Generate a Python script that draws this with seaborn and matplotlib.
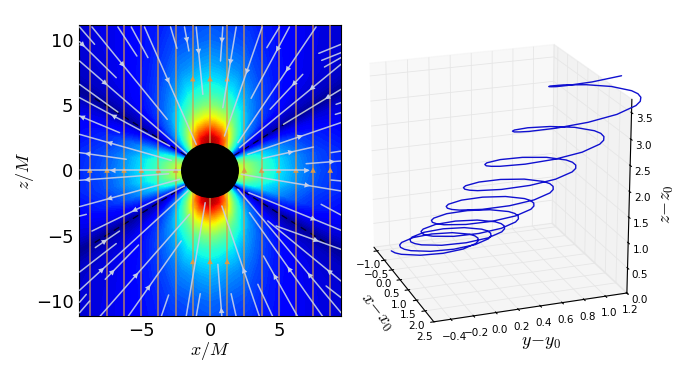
import numpy as np
import matplotlib
matplotlib.use("Agg")
import matplotlib.pyplot as plt
from matplotlib.patches import Circle
import seaborn as sns

sns.set_style("white", {"xtick.bottom": True, "ytick.left": True, "text.color": "black",
                        "axes.labelcolor": "black", "xtick.color": "black", "ytick.color": "black"})
plt.rcParams["font.family"] = ["DejaVu Sans"]
plt.rcParams["mathtext.fontset"] = "cm"

# ---- left panel: field strength (one quadrant, mirrored)
field_angles = np.array([0, 10, 20, 28, 33, 38, 45, 55, 65, 75, 85, 90], dtype=float)
field_radii = np.array([2, 2.5, 3, 3.5, 4, 5, 6, 7, 8, 10, 12, 16], dtype=float)
field_values = np.array([
    [.62, .57, .52, .47, .42, .35, .29, .24, .20, .15, .12, .09],
    [.60, .55, .50, .45, .41, .34, .28, .23, .19, .15, .12, .08],
    [.50, .46, .41, .37, .33, .28, .23, .19, .16, .12, .10, .07],
    [.28, .25, .22, .19, .17, .14, .12, .10, .09, .08, .07, .05],
    [.08, .07, .06, .05, .04, .03, .03, .02, .02, .02, .02, .02],
    [.22, .19, .16, .13, .11, .08, .07, .06, .06, .06, .06, .05],
    [.42, .36, .31, .27, .23, .18, .15, .13, .11, .09, .08, .06],
    [.65, .56, .48, .41, .35, .27, .22, .18, .15, .12, .10, .08],
    [.85, .78, .68, .57, .48, .37, .29, .24, .20, .15, .13, .10],
    [.93, .90, .80, .69, .60, .46, .37, .31, .26, .20, .16, .12],
    [.96, .94, .86, .75, .65, .50, .40, .34, .29, .22, .18, .14],
    [.97, .95, .88, .76, .66, .51, .41, .35, .30, .23, .19, .15],
])

# vertical orange field lines
orange_x = [-8.72, -7.47, -6.23, -4.98, -3.74, -2.49, -1.25, 0.0,
            1.25, 2.49, 3.74, 4.98, 6.23, 7.47, 8.72]
orange_arrow_mid_x = [-1.25, 0.0, 1.25]

# light field lines: x0, z0, x1, z1, arrow fraction (0 = none), arrow direction
light_lines = [
    (-9.46, 11.0, -8.37, 9.67, 0, 1), (-9.46, 9.87, -6.8, 7.11, .07, 1),
    (-8.56, 11.0, -3.10, 3.92, .40, 1), (-9.46, 8.39, -1.65, 1.24, .23, 1),
    (-9.46, 6.6, -6.68, 4.48, 0, 1), (-9.46, 5.58, -2.93, 1.88, .39, -1),
    (-9.46, 4.18, -6.56, 2.9, .09, -1), (-9.46, 2.77, -2.81, .78, .34, -1),
    (-9.46, 1.37, -6.07, .86, .2, -1), (-9.46, 0.0, -2.09, 0.0, .34, -1),
    (-6.68, 11.0, -5.3, 8.77, 0, 1), (-5.71, 11.0, -4.5, 8.65, 0, 1),
    (-4.75, 11.0, -1.0, 2.0, .45, 1), (-2.86, 11.0, -2.4, 9.36, 0, 1),
    (-1.85, 11.0, -1.53, 9.16, .5, 1), (-1.0, 11.0, -.52, 5.84, .35, 1),
    (.93, 11.0, .76, 8.39, .36, 1), (1.9, 11.0, .93, 4.81, .42, 1),
    (3.78, 11.0, 1.05, 2.64, .4, 1), (5.04, 11.0, 4.12, 9.41, 0, 1),
    (5.76, 11.0, 2.98, 5.53, .3, 1), (7.69, 11.0, 2.02, 2.13, .36, 1),
    (6.73, 7.37, 4.36, 4.69, .25, 1), (9.5, 9.67, 7.89, 8.98, 0, 1),
    (9.5, 9.03, 8.1, 8.44, 0, 1), (9.5, 8.65, 8.3, 7.93, 0, 1),
    (9.5, 8.14, 2.14, 1.75, .28, 1), (9.5, 6.22, 5.33, 3.54, .22, 1),
    (9.5, 3.67, 2.74, 1.24, .45, -1), (7.5, 1.8, 3.83, .93, .47, -1),
    (9.5, 1.49, 8.78, 1.37, 0, 1), (9.5, .73, 6.97, .52, .29, -1),
    (7.09, 0.0, 3.83, 0.0, .05, -1), (9.5, 5.2, 9.14, 5.07, 0, 1),
    (9.5, 4.43, 9.09, 4.3, 0, 1),
    (-9.46, -.75, -3.0, -.25, .1, -1), (-9.46, -2.77, -2.21, -.68, .31, -1),
    (-9.46, -3.49, -8.97, -3.36, 0, 1), (-8.56, -4.64, -1.85, -1.19, .47, -1),
    (-8.32, -5.91, -6.56, -4.64, .35, 1), (-9.46, -7.78, -6.8, -5.6, 0, 1),
    (-7.6, -8.34, -5.18, -5.71, .2, 1), (-9.46, -9.18, -1.6, -1.57, .2, 1),
    (-9.46, -10.9, -8.73, -10.0, 0, 1), (-9.46, -10.1, -8.97, -9.49, 0, 1),
    (-8.0, -11.2, -1.49, -3.36, .4, 1), (-5.95, -11.2, -2.09, -5.4, .38, 1),
    (-3.54, -11.2, -3.0, -9.54, 0, 1), (-1.73, -11.2, -.35, -2.47, 0, 1),
    (-1.0, -11.2, -.71, -9.44, 0, 1), (.86, -11.2, .57, -7.19, .1, 1),
    (3.59, -11.2, .86, -2.72, .41, 1), (1.9, -11.2, 1.53, -9.44, 0, 1),
    (4.55, -11.2, 3.47, -8.72, 0, 1), (6.36, -11.2, 3.88, -6.55, .65, 1),
    (8.18, -11.2, 2.86, -3.23, .45, 1), (9.5, -10.9, 2.02, -1.44, .3, 1),
    (9.5, -8.47, 4.19, -3.87, .15, 1), (9.5, -9.74, 8.42, -8.85, 0, 1),
    (9.5, -6.04, 4.79, -4.25, .4, -1), (9.5, -4.58, 2.81, -1.7, .31, -1),
    (9.5, -3.41, 8.06, -2.59, 0, 1), (9.5, -1.57, 2.26, -.29, .35, -1),
    (9.5, -.8, 8.78, -.73, 0, 1),
]
null_x = [1.75, 8.7]
null_z = [1.15, 5.75]
horizon_radius = 2.05

# ---- right panel: particle path
path_x = [-.63, -.501, -.38, -.193, -.118, -.172, -.337, -.448, -.567, -.686, -.797, -.962, -1.015, -.941, -.754, -.633,
          -.504, -.374, -.252, -.065, .011, -.042, -.206, -.316, -.434, -.553, -.663, -.827, -.88, -.804, -.617, -.495,
          -.365, -.235, -.112, .076, .153, .101, -.062, -.172, -.289, -.407, -.517, -.68, -.732, -.655, -.467, -.344,
          -.214, -.084, .038, .225, .301, .248, .084, -.026, -.144, -.263, -.373, -.537, -.59, -.514, -.327, -.205,
          -.075, .057, .182, .374, .455, .408, .248, .141, .025, -.091, -.198, -.358, -.405, -.324, -.132, -.007,
          .125, .259, .384, .579, .662, .617, .46, .353, .239, .124, .017, -.14, -.185, -.102, .093, .218,
          .352, .488, .615, .814, .901, .86, .708, .603, .491, .378, .273, .121, .08, .167, .366, .493,
          .629, .768, .898, 1.104, 1.197, 1.163, 1.016, .915, .806, .696, .595, .448, .414, .507, .713, .843,
          .982, 1.125, 1.259, 1.473, 1.575, 1.548, 1.41, 1.312, 1.207, 1.102, 1.004, .866, .84, .941, 1.155, 1.289,
          1.432, 1.56, 1.71, 1.93, 2.03]
path_y = [-.466, -.45, -.408, -.258, -.056, .144, .294, .336, .352, .342, .306, .168, -.021, -.212, -.35, -.386,
          -.396, -.379, -.336, -.18, .028, .238, .392, .436, .453, .443, .405, .263, .067, -.129, -.271, -.308,
          -.319, -.301, -.256, -.096, .121, .337, .497, .542, .56, .55, .511, .365, .163, -.04, -.186, -.225,
          -.235, -.218, -.171, -.006, .216, .439, .603, .65, .668, .657, .616, .464, .255, .045, -.106, -.147,
          -.158, -.138, -.09, .083, .316, .547, .72, .768, .788, .778, .738, .583, .371, .157, .002, -.038,
          -.048, -.028, .023, .203, .443, .683, .862, .913, .933, .923, .882, .725, .506, .287, .129, .088,
          .078, .1, .154, .34, .59, .838, 1.024, 1.078, 1.1, 1.09, 1.05, .89, .667, .442, .282, .242,
          .232, .256, .313, .508, .767, 1.026, 1.221, 1.278, 1.302, 1.294, 1.253, 1.092, .865, .638, .477, .436,
          .428, .455, .516, .722, .995, 1.267, 1.473, 1.534, 1.561, 1.555, 1.515, 1.351, 1.12, .888, .724, .685,
          .678, .70, .768, .953, 1.2]
path_z = [.12, .124, .128, .137, .145, .153, .162, .166, .17, .174, .178, .187, .195, .203, .212, .216,
          .22, .226, .232, .244, .256, .268, .28, .286, .293, .299, .305, .317, .329, .341, .353, .359,
          .365, .374, .382, .399, .416, .433, .45, .459, .468, .476, .485, .502, .519, .536, .553, .561,
          .57, .581, .592, .613, .635, .657, .678, .689, .7, .711, .722, .743, .765, .787, .808, .819,
          .83, .844, .857, .885, .913, .94, .968, .981, .995, 1.009, 1.022, 1.05, 1.078, 1.105, 1.133, 1.146,
          1.16, 1.178, 1.196, 1.232, 1.268, 1.303, 1.339, 1.357, 1.375, 1.393, 1.411, 1.447, 1.483, 1.518, 1.554, 1.572,
          1.59, 1.612, 1.633, 1.677, 1.72, 1.763, 1.807, 1.828, 1.85, 1.872, 1.893, 1.937, 1.98, 2.023, 2.067, 2.088,
          2.11, 2.141, 2.171, 2.232, 2.293, 2.353, 2.414, 2.444, 2.475, 2.506, 2.536, 2.597, 2.658, 2.718, 2.779, 2.809,
          2.84, 2.88, 2.918, 2.998, 3.076, 3.155, 3.234, 3.273, 3.313, 3.352, 3.391, 3.47, 3.549, 3.628, 3.707, 3.745,
          3.785, 3.82, 3.87, 3.96, 4.05]
x_ticks_3d = [-1.0, -0.5, 0.0, 0.5, 1.0, 1.5, 2.0, 2.5]
y_ticks_3d = [-0.4, -0.2, 0.0, 0.2, 0.4, 0.6, 0.8, 1.0, 1.2]
z_ticks_3d = [0.0, 0.5, 1.0, 1.5, 2.0, 2.5, 3.0, 3.5]

W, H = 688, 367
fig = plt.figure(figsize=(W / 100, H / 100), dpi=100)

# ---------------- left panel
ax = fig.add_axes([79 / W, 1 - 316 / H, 262 / W, 291 / H])
a = np.concatenate([field_angles, 180 - field_angles[-2::-1],
                    180 + field_angles[1:], 360 - field_angles[-2::-1]])
vals = np.vstack([field_values, field_values[-2::-1], field_values[1:], field_values[-2::-1]])
T, R = np.meshgrid(np.radians(a), field_radii, indexing="ij")
ax.contourf(R * np.cos(T), R * np.sin(T), vals, levels=np.linspace(0, 1, 101),
            cmap=plt.get_cmap("jet"), vmin=0, vmax=1, antialiased=False)

for sx in (-1, 1):
    for sz in (-1, 1):
        ax.plot(np.array(null_x) * sx, np.array(null_z) * sz, color="black",
                lw=0.9, ls=(0, (5, 4)), alpha=.75, zorder=2)

head = "-|>,head_width=0.2,head_length=0.4"
orange = "#dc9a48"
for xk in orange_x:
    sns.lineplot(x=[xk, xk], y=[-11.5, 11.5], ax=ax, color=orange, lw=1.2, alpha=.72,
                 estimator=None, sort=False, legend=False, zorder=3)
    ax.annotate("", xy=(xk, 0.25), xytext=(xk, -0.25), zorder=3,
                arrowprops=dict(arrowstyle=head, color=orange, lw=0, shrinkA=0, shrinkB=0))
for xk in orange_arrow_mid_x:
    for zk in (7.0, -7.0):
        ax.annotate("", xy=(xk, zk + .25), xytext=(xk, zk - .25), zorder=3,
                    arrowprops=dict(arrowstyle=head, color=orange, lw=0, shrinkA=0, shrinkB=0))

light = "#c6cfe8"
for x0, z0, x1, z1, f, d in light_lines:
    sns.lineplot(x=[x0, x1], y=[z0, z1], ax=ax, color=light, lw=1.1, alpha=.9,
                 estimator=None, sort=False, legend=False, zorder=4)
    if f:
        px = x0 + f * (x1 - x0)
        pz = z0 + f * (z1 - z0)
        ux = (x1 - x0) / np.hypot(x1 - x0, z1 - z0) * d * .3
        uz = (z1 - z0) / np.hypot(x1 - x0, z1 - z0) * d * .3
        ax.annotate("", xy=(px + ux, pz + uz), xytext=(px - ux, pz - uz), zorder=4,
                    arrowprops=dict(arrowstyle=head, color=light, lw=0, shrinkA=0, shrinkB=0))

ax.add_patch(Circle((0, 0), horizon_radius, color="black", zorder=6))
ax.set_xlim(-9.5, 9.5)
ax.set_ylim(-11.15, 11.15)
ax.set_xticks([-5, 0, 5])
ax.set_yticks([-10, -5, 0, 5, 10])
ax.tick_params(labelsize=13, length=3, width=.6, direction="in", pad=4,
               top=True, right=True, bottom=True, left=True)
for s in ax.spines.values():
    s.set_visible(True)
    s.set_color("black")
    s.set_linewidth(.8)
ax.set_xlabel("$x/M$", fontsize=13, labelpad=0)
ax.set_ylabel("$z/M$", fontsize=13, labelpad=0)

# ---------------- right panel
ax3 = fig.add_axes([318 / W, 2 / H, 348 / W, 1.0], projection="3d")
ax3.patch.set_alpha(0)
ax3.plot(path_x, path_y, path_z, color="#1010d0", lw=1.0)
ax3.set_xlim(-1.2, 2.5)
ax3.set_ylim(-.55, 1.2)
ax3.set_zlim(0, 3.75)
ax3.set_xticks(x_ticks_3d)
ax3.set_yticks(y_ticks_3d)
ax3.set_zticks(z_ticks_3d)
ax3.view_init(elev=20, azim=-20)
ax3.set_box_aspect((1, 1, 1), zoom=0.97)
ax3.tick_params(labelsize=7.5, pad=-2)
for axis, shade in zip((ax3.xaxis, ax3.yaxis, ax3.zaxis), (.95, .90, .925)):
    axis.set_pane_color((shade, shade, shade, .5))
    axis._axinfo["grid"]["color"] = (.9, .9, .9, 1)
    axis._axinfo["grid"]["linewidth"] = .6
    axis._axinfo["tick"]["color"] = "black"
    axis.line.set_color("black")
    axis.line.set_linewidth(.8)
ax3.set_xlabel("$x\\!-\\!x_0$", fontsize=13, labelpad=-3)
ax3.yaxis.set_rotate_label(False)
ax3.set_ylabel("$y\\!-\\!y_0$", fontsize=13, labelpad=-4, rotation=0)
ax3.zaxis.set_rotate_label(False)
ax3.set_zlabel("$z\\!-\\!z_0$", fontsize=13, labelpad=-3, rotation=90)

fig.savefig("out.png", dpi=100)
